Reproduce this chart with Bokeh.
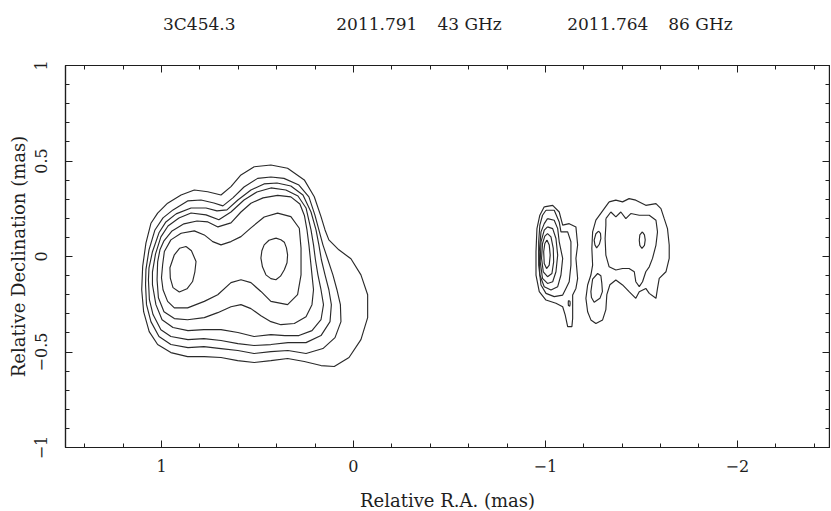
from bokeh.plotting import figure
from bokeh.models import Range1d, LinearAxis, FixedTicker
from bokeh.embed import file_html
from bokeh.resources import INLINE

# ---------------- texts ----------------
TITLE_TEXTS = ["3C454.3", "2011.791", "43 GHz", "2011.764", "86 GHz"]
X_AXIS_LABEL = "Relative R.A. (mas)"
Y_AXIS_LABEL = "Relative Declination (mas)"

# ---------------- ticks ----------------
X_MAJOR = [1, 0, -1, -2]
X_TICK_LABELS = ["1", "0", "\u22121", "\u22122"]
X_MINOR = [1.4, 1.2, 0.8, 0.6, 0.4, 0.2, -0.2, -0.4, -0.6, -0.8,
           -1.2, -1.4, -1.6, -1.8, -2.2, -2.4]
Y_MAJOR = [-1, -0.5, 0, 0.5, 1]
Y_TICK_LABELS = ["\u22121", "\u22120.5", "0", "0.5", "1"]
Y_MINOR = [-0.9, -0.8, -0.7, -0.6, -0.4, -0.3, -0.2, -0.1,
           0.1, 0.2, 0.3, 0.4, 0.6, 0.7, 0.8, 0.9]

# ---------------- contours, 43 GHz map (RA, Dec in mas) ----------------
C43_1 = [(0.968, 0.279), (0.898, 0.322), (0.829, 0.348), (0.759, 0.339), (0.690, 0.322),
         (0.638, 0.366), (0.586, 0.427), (0.517, 0.470), (0.430, 0.479), (0.343, 0.462),
         (0.256, 0.401), (0.204, 0.313), (0.169, 0.209), (0.148, 0.139), (0.128, 0.087),
         (0.076, 0.035), (0.013, -0.012), (-0.039, -0.096), (-0.074, -0.200), (-0.074, -0.320),
         (-0.039, -0.435), (0.023, -0.529), (0.100, -0.576), (0.169, -0.571), (0.256, -0.550),
         (0.343, -0.534), (0.430, -0.545), (0.517, -0.555), (0.603, -0.545), (0.690, -0.529),
         (0.777, -0.524), (0.864, -0.524), (0.951, -0.503), (1.020, -0.461), (1.064, -0.393),
         (1.093, -0.289), (1.103, -0.174), (1.098, -0.052), (1.081, 0.070), (1.055, 0.174),
         (1.020, 0.227)]
C43_2 = [(0.940, 0.244), (0.864, 0.291), (0.794, 0.296), (0.727, 0.280), (0.680, 0.265),
         (0.628, 0.307), (0.570, 0.364), (0.499, 0.409), (0.430, 0.416), (0.362, 0.409),
         (0.284, 0.374), (0.232, 0.312), (0.201, 0.218), (0.180, 0.139), (0.159, 0.061),
         (0.133, -0.017), (0.107, -0.096), (0.086, -0.174), (0.068, -0.252), (0.065, -0.341),
         (0.096, -0.425), (0.159, -0.482), (0.247, -0.508), (0.341, -0.492), (0.430, -0.498),
         (0.518, -0.508), (0.602, -0.492), (0.690, -0.482), (0.779, -0.472), (0.862, -0.477),
         (0.951, -0.461), (1.013, -0.419), (1.055, -0.341), (1.078, -0.252), (1.083, -0.148),
         (1.081, -0.069), (1.065, 0.035), (1.034, 0.139), (0.992, 0.202)]
C43_3 = [(0.924, 0.223), (0.846, 0.254), (0.768, 0.254), (0.711, 0.239), (0.659, 0.244),
         (0.602, 0.296), (0.534, 0.348), (0.466, 0.380), (0.398, 0.385), (0.326, 0.369),
         (0.263, 0.322), (0.221, 0.233), (0.195, 0.139), (0.180, 0.061), (0.167, -0.017),
         (0.148, -0.096), (0.128, -0.174), (0.115, -0.252), (0.122, -0.341), (0.169, -0.414),
         (0.247, -0.451), (0.341, -0.451), (0.430, -0.461), (0.518, -0.466), (0.602, -0.456),
         (0.690, -0.440), (0.779, -0.430), (0.862, -0.435), (0.951, -0.419), (1.003, -0.383),
         (1.044, -0.304), (1.063, -0.226), (1.068, -0.122), (1.065, -0.059), (1.047, 0.025),
         (1.013, 0.124), (0.977, 0.181)]
C43_4 = [(0.909, 0.202), (0.846, 0.228), (0.768, 0.218), (0.701, 0.192), (0.638, 0.233),
         (0.570, 0.296), (0.503, 0.338), (0.430, 0.359), (0.352, 0.348), (0.289, 0.317),
         (0.247, 0.254), (0.221, 0.139), (0.208, 0.061), (0.198, -0.017), (0.185, -0.096),
         (0.169, -0.174), (0.156, -0.252), (0.169, -0.331), (0.216, -0.388), (0.284, -0.414),
         (0.357, -0.414), (0.430, -0.409), (0.518, -0.419), (0.602, -0.398), (0.690, -0.383),
         (0.779, -0.383), (0.862, -0.388), (0.940, -0.372), (0.997, -0.331), (1.029, -0.252),
         (1.047, -0.148), (1.047, -0.080), (1.031, 0.014), (1.003, 0.103), (0.966, 0.160)]
C43_5 = [(0.883, 0.171), (0.815, 0.186), (0.758, 0.181), (0.706, 0.155), (0.638, 0.176),
         (0.586, 0.233), (0.534, 0.279), (0.471, 0.307), (0.395, 0.320), (0.326, 0.312),
         (0.279, 0.275), (0.255, 0.213), (0.242, 0.139), (0.232, 0.061), (0.224, -0.017),
         (0.216, -0.096), (0.208, -0.174), (0.216, -0.252), (0.247, -0.315), (0.308, -0.351),
         (0.378, -0.357), (0.430, -0.341), (0.482, -0.310), (0.534, -0.273), (0.586, -0.252),
         (0.638, -0.263), (0.707, -0.294), (0.777, -0.320), (0.864, -0.331), (0.933, -0.325),
         (0.987, -0.289), (1.016, -0.216), (1.023, -0.122), (1.020, -0.028), (1.008, 0.035),
         (0.987, 0.082), (0.945, 0.134)]
C43_6 = [(0.898, 0.122), (0.829, 0.134), (0.777, 0.113), (0.733, 0.078), (0.690, 0.061),
         (0.638, 0.078), (0.586, 0.104), (0.534, 0.150), (0.465, 0.207), (0.395, 0.227),
         (0.326, 0.209), (0.282, 0.148), (0.273, 0.044), (0.273, -0.096), (0.291, -0.200),
         (0.343, -0.252), (0.430, -0.235), (0.482, -0.183), (0.534, -0.137), (0.586, -0.122),
         (0.638, -0.137), (0.707, -0.200), (0.777, -0.235), (0.864, -0.269), (0.933, -0.269),
         (0.968, -0.235), (0.992, -0.174), (1.000, -0.111), (0.994, -0.043), (0.985, 0.026),
         (0.951, 0.087)]
C43_7A = [(0.872, 0.052), (0.844, 0.030), (0.820, -0.026), (0.826, -0.080), (0.838, -0.131),
          (0.867, -0.169), (0.907, -0.186), (0.940, -0.163), (0.954, -0.113), (0.956, -0.059),
          (0.933, 0.009), (0.906, 0.043)]
C43_7B = [(0.404, 0.096), (0.378, 0.088), (0.360, 0.075), (0.349, 0.045), (0.343, 0.009),
          (0.346, -0.033), (0.360, -0.069), (0.380, -0.103), (0.404, -0.122), (0.430, -0.116),
          (0.456, -0.096), (0.474, -0.054), (0.482, -0.008), (0.477, 0.030), (0.465, 0.061),
          (0.440, 0.085)]

# ---------------- contours, 86 GHz map (RA, Dec in mas) ----------------
C86_CORE_1 = [(-0.994, 0.260), (-1.038, 0.268), (-1.072, 0.233), (-1.090, 0.164), (-1.124, 0.172),
              (-1.159, 0.155), (-1.168, 0.060), (-1.159, -0.010), (-1.168, -0.115), (-1.159, -0.167),
              (-1.142, -0.202), (-1.142, -0.324), (-1.138, -0.367), (-1.116, -0.367), (-1.103, -0.306),
              (-1.090, -0.263), (-1.055, -0.245), (-1.003, -0.228), (-0.968, -0.184), (-0.951, -0.097),
              (-0.951, 0.025), (-0.956, 0.146), (-0.971, 0.216)]
C86_CORE_2 = [(-1.003, 0.242), (-1.046, 0.242), (-1.072, 0.181), (-1.081, 0.129), (-1.116, 0.129),
              (-1.133, 0.077), (-1.133, -0.045), (-1.124, -0.132), (-1.107, -0.167), (-1.090, -0.202),
              (-1.046, -0.210), (-1.003, -0.193), (-0.977, -0.149), (-0.965, -0.045), (-0.965, 0.077),
              (-0.971, 0.164), (-0.985, 0.216)]
C86_CORE_3 = [(-1.011, 0.198), (-1.046, 0.190), (-1.064, 0.146), (-1.072, 0.077), (-1.090, -0.010),
              (-1.081, -0.097), (-1.064, -0.158), (-1.029, -0.175), (-0.994, -0.158), (-0.971, -0.097),
              (-0.968, 0.025), (-0.977, 0.129), (-0.994, 0.172)]
C86_CORE_4 = [(-1.011, 0.155), (-1.038, 0.146), (-1.055, 0.094), (-1.064, 0.007), (-1.055, -0.080),
              (-1.038, -0.132), (-1.011, -0.141), (-0.985, -0.115), (-0.973, -0.028), (-0.977, 0.077),
              (-0.994, 0.138)]
C86_CORE_5 = [(-1.011, 0.120), (-1.029, 0.103), (-1.041, 0.042), (-1.043, -0.028), (-1.034, -0.089),
              (-1.011, -0.106), (-0.989, -0.080), (-0.980, -0.010), (-0.985, 0.068), (-0.997, 0.107)]
C86_CORE_6 = [(-1.008, 0.086), (-1.020, 0.060), (-1.025, 0.007), (-1.020, -0.045), (-1.006, -0.063),
              (-0.994, -0.037), (-0.991, 0.025), (-0.997, 0.068)]
C86_BLOB = [(-1.120, -0.231), (-1.128, -0.234), (-1.129, -0.247), (-1.127, -0.260),
            (-1.120, -0.257), (-1.119, -0.244)]
C86_JET_1 = [(-1.332, 0.286), (-1.367, 0.295), (-1.402, 0.286), (-1.436, 0.303), (-1.471, 0.295),
             (-1.523, 0.268), (-1.576, 0.277), (-1.602, 0.251), (-1.619, 0.198), (-1.636, 0.146),
             (-1.645, 0.060), (-1.645, -0.010), (-1.628, -0.080), (-1.593, -0.115), (-1.584, -0.167),
             (-1.576, -0.219), (-1.541, -0.193), (-1.523, -0.167), (-1.489, -0.184), (-1.471, -0.219),
             (-1.436, -0.184), (-1.402, -0.149), (-1.367, -0.123), (-1.336, -0.148), (-1.320, -0.200),
             (-1.315, -0.278), (-1.298, -0.332), (-1.263, -0.351), (-1.237, -0.332), (-1.220, -0.289),
             (-1.211, -0.219), (-1.220, -0.149), (-1.237, -0.097), (-1.246, -0.045), (-1.242, 0.042),
             (-1.246, 0.129), (-1.263, 0.190), (-1.298, 0.239)]
C86_JET_2 = [(-1.315, 0.198), (-1.341, 0.233), (-1.367, 0.207), (-1.393, 0.233), (-1.419, 0.198),
             (-1.445, 0.225), (-1.489, 0.216), (-1.541, 0.216), (-1.576, 0.190), (-1.584, 0.129),
             (-1.576, 0.060), (-1.558, -0.010), (-1.541, -0.054), (-1.523, -0.080), (-1.506, -0.132),
             (-1.489, -0.158), (-1.471, -0.132), (-1.463, -0.080), (-1.436, -0.063), (-1.402, -0.063),
             (-1.367, -0.071), (-1.332, -0.054), (-1.315, 0.007), (-1.311, 0.094), (-1.315, 0.164)]
C86_JET_3 = [(-1.505, 0.129), (-1.516, 0.113), (-1.520, 0.087), (-1.516, 0.058), (-1.503, 0.042),
             (-1.492, 0.058), (-1.489, 0.085), (-1.492, 0.113)]
C86_KNOT_A = [(-1.277, 0.133), (-1.287, 0.121), (-1.289, 0.094), (-1.281, 0.064), (-1.267, 0.045),
              (-1.258, 0.061), (-1.254, 0.086), (-1.263, 0.119)]
C86_KNOT_B = [(-1.272, -0.089), (-1.289, -0.101), (-1.294, -0.141), (-1.297, -0.184), (-1.284, -0.219),
              (-1.254, -0.240), (-1.240, -0.215), (-1.237, -0.184), (-1.246, -0.118)]

CONTOURS = [C43_1, C43_2, C43_3, C43_4, C43_5, C43_6, C43_7A, C43_7B,
            C86_CORE_1, C86_CORE_2, C86_CORE_3, C86_CORE_4, C86_CORE_5, C86_CORE_6,
            C86_BLOB, C86_JET_1, C86_JET_2, C86_JET_3, C86_KNOT_A, C86_KNOT_B]

# ---------------- styling / layout ----------------
FONT = "DejaVu Serif"
INK = "#1e1e1e"
TITLE_CENTERS = [0.803, -0.122, -0.605, -1.325, -1.808]   # heading text centres along R.A. (mas)

p = figure(frame_width=764, frame_height=382,
           x_range=Range1d(1.5, -2.48), y_range=Range1d(-1.0, 1.0),
           output_backend="svg", toolbar_location=None,
           min_border_left=65, min_border_top=65, min_border_right=1, min_border_bottom=64,
           background_fill_color="white", border_fill_color="white")
p.grid.visible = False
p.outline_line_color = INK
p.outline_line_width = 1.2


def style_axis(ax, ticks, minor, labels, show_labels):
    ax.ticker = FixedTicker(ticks=ticks, minor_ticks=minor)
    ax.major_tick_in = 7
    ax.major_tick_out = 0
    ax.minor_tick_in = 4
    ax.minor_tick_out = 0
    ax.major_tick_line_color = INK
    ax.minor_tick_line_color = INK
    ax.axis_line_color = INK
    ax.axis_line_width = 1.2
    if show_labels:
        ax.major_label_overrides = {t: s for t, s in zip(ticks, labels)}
        ax.major_label_text_font = FONT
        ax.major_label_text_font_size = "16px"
        ax.major_label_text_color = INK
    else:
        ax.major_label_overrides = {t: "" for t in ticks}
        ax.major_label_text_font_size = "0px"
        ax.major_label_standoff = 0


xb = p.xaxis[0]
style_axis(xb, X_MAJOR, X_MINOR, X_TICK_LABELS, True)
xb.major_label_standoff = 12
xb.axis_label = X_AXIS_LABEL
xb.axis_label_text_font = FONT
xb.axis_label_text_font_style = "normal"
xb.axis_label_text_font_size = "18px"
xb.axis_label_text_color = INK
xb.axis_label_standoff = 15

yl = p.yaxis[0]
style_axis(yl, Y_MAJOR, Y_MINOR, Y_TICK_LABELS, True)
yl.major_label_orientation = "parallel"
yl.major_label_standoff = 19
yl.axis_label = Y_AXIS_LABEL
yl.axis_label_text_font = FONT
yl.axis_label_text_font_style = "normal"
yl.axis_label_text_font_size = "18px"
yl.axis_label_text_color = INK
yl.axis_label_standoff = 3

xt = LinearAxis()
style_axis(xt, X_MAJOR, X_MINOR, X_TICK_LABELS, False)
p.add_layout(xt, "above")
yr = LinearAxis()
style_axis(yr, Y_MAJOR, Y_MINOR, Y_TICK_LABELS, False)
p.add_layout(yr, "right")

# heading row, written as the labels of an extra (invisible) top axis
head = LinearAxis(ticker=FixedTicker(ticks=TITLE_CENTERS, minor_ticks=[]))
head.major_label_overrides = {t: s for t, s in zip(TITLE_CENTERS, TITLE_TEXTS)}
head.major_label_text_font = FONT
head.major_label_text_font_size = "17px"
head.major_label_text_color = INK
head.major_label_standoff = 32
head.major_tick_in = 0
head.major_tick_out = 0
head.minor_tick_in = 0
head.minor_tick_out = 0
head.axis_line_color = None
head.major_tick_line_color = None
head.minor_tick_line_color = None
p.add_layout(head, "above")

# contour lines
xs = [[pt[0] for pt in c] + [c[0][0]] for c in CONTOURS]
ys = [[pt[1] for pt in c] + [c[0][1]] for c in CONTOURS]
p.multi_line(xs=xs, ys=ys, line_color="#2a2a2a", line_width=1.15)

open("out.html", "w").write(file_html(p, INLINE))
